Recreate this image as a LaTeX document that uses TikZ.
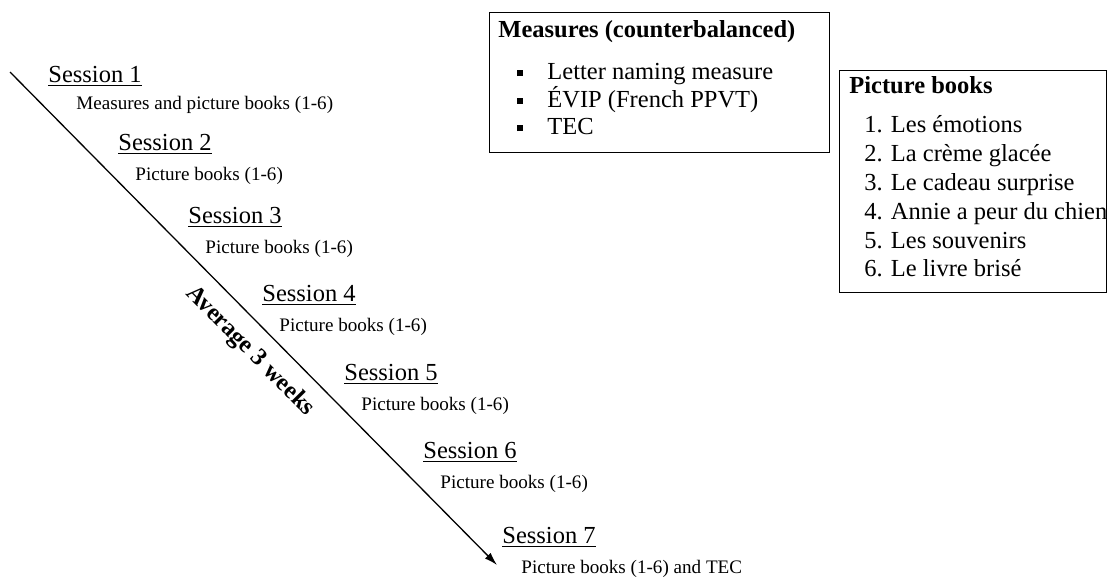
\documentclass[tikz,border=0pt]{standalone}
\usepackage{fontspec}
\setmainfont{Liberation Serif}
\usetikzlibrary{arrows.meta,positioning}
\newcommand{\sqbul}{\makebox[15pt][l]{\rule[1.75pt]{3pt}{3pt}}}

\tikzset{
  big/.style={font=\fontsize{12.25}{14}\selectfont, inner sep=0pt, anchor=base west},
  head/.style={font=\bfseries\fontsize{12.25}{14}\selectfont, inner sep=0pt, anchor=base west},
  small/.style={font=\fontsize{9.55}{11}\selectfont, inner sep=0pt, anchor=base west},
  boxframe/.style={draw, line width=0.65pt, inner sep=0pt, anchor=north west},
}

\begin{document}
\begin{tikzpicture}[x=0.5pt, y=-0.5pt]
  \useasboundingbox (0,0) rectangle (1107,579);
  \coordinate (start) at (10,72);
  \coordinate (end) at (497,565);
  \draw[-{Latex[length=6.5pt,width=4pt]}, line width=0.65pt] (start) -- node[pos=0.53, sloped, below=3.5pt, font=\bfseries\fontsize{12.25}{14}\selectfont] (avg) {Average 3 weeks} (end);

  % sessions
  \node[big] (s1) at (48,82) {\underline{Session 1}};
  \node[small] (b1) at (76,109) {Measures and picture books (1-6)};
  \foreach \n/\x/\y in {2/118/150, 3/188/223, 4/262/301, 5/344/380, 6/423/458}{
    \node[big] (s\n) at (\x,\y) {\underline{Session \n}};
    \node[small] (b\n) at ([shift={(17,30)}]s\n.base west) {Picture books (1-6)};
  }
  \node[big] (s7) at (502,543) {\underline{Session 7}};
  \node[small] (b7) at (521,573) {Picture books (1-6) and TEC};

  % measures box
  \node[boxframe, minimum width=170pt, minimum height=70pt] (measbox) at (489,12) {};
  \node[head] (meastitle) at (498,37) {Measures (counterbalanced)};
  \node[big] (m1) at (517,79.5) {\sqbul Letter naming measure};
  \node[big] (m2) at (517,107) {\sqbul ÉVIP (French PPVT)};
  \node[big] (m3) at (517,134.5) {\sqbul TEC};

  % picture books box
  \node[boxframe, minimum width=133.25pt, minimum height=111pt] (bookbox) at (839,70) {};
  \node[head] (booktitle) at (849,93) {Picture books};
  \foreach \i/\t in {1/Les émotions, 2/La crème glacée, 3/Le cadeau surprise, 4/Annie a peur du chien, 5/Les souvenirs, 6/Le livre brisé}{
    \node[big] (p\i) at (864,104+28.8*\i) {\i. \t};
  }
\end{tikzpicture}
\end{document}
